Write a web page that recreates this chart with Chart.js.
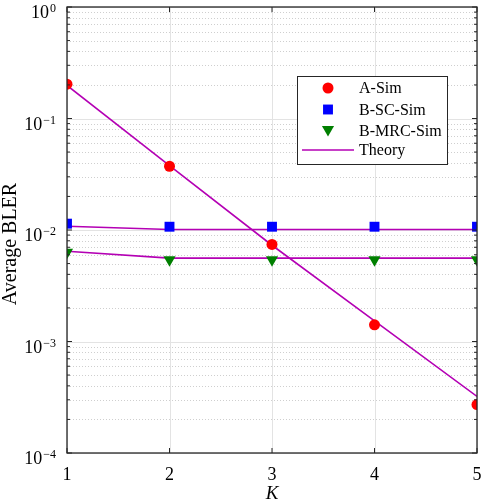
<!DOCTYPE html>
<html>
<head>
<meta charset="utf-8">
<script src="https://cdn.jsdelivr.net/npm/chart.js@4"></script>
<style>
  body { margin: 0; background: #fff; }
  canvas { display: block; }
</style>
</head>
<body>
<canvas id="grafico" width="485" height="500"></canvas>
<script>
// valores
const valoresK = [1, 2, 3, 4, 5];
const aSim = [0.203, 0.0373, 0.00743, 0.00141, 0.000272];
const bScSim = [0.0114, 0.0107, 0.0107, 0.0107, 0.0107];
const bMrcSim = [0.0063, 0.0054, 0.0054, 0.0054, 0.0054];
const aTeoria = [0.198, 0.0378, 0.0073, 0.00153, 0.000322];
const bScTeoria = [0.0108, 0.0101, 0.0101, 0.0101, 0.0101];
const bMrcTeoria = [0.00645, 0.0056, 0.0056, 0.0056, 0.0056];

const ticksX = [1, 2, 3, 4, 5];
const expoentesY = [0, -1, -2, -3, -4];
const nomesLegenda = ['A-Sim', 'B-SC-Sim', 'B-MRC-Sim', 'Theory'];

const COR_TEORIA = '#b400b4';
const COR_EIXO = '#262626';
const FONTE = '"Liberation Serif", "Times New Roman", serif';

function pontos(valores) {
  return valores.map((v, i) => ({ x: valoresK[i], y: v }));
}

function marcador(label, valores, cor, estilo, raio, rot) {
  return {
    label: label,
    data: pontos(valores),
    showLine: false,
    pointStyle: estilo,
    pointRadius: raio,
    pointRotation: rot || 0,
    pointBackgroundColor: cor,
    pointBorderColor: cor,
    pointBorderWidth: 0,
    order: 1
  };
}

function linhaTeoria(valores) {
  return {
    label: 'Theory',
    data: pontos(valores),
    borderColor: COR_TEORIA,
    borderWidth: 1.6,
    pointRadius: 0,
    fill: false,
    order: 2
  };
}

function desenhaPonto(ctx, estilo, x, y, r, cor) {
  ctx.save();
  ctx.fillStyle = cor;
  ctx.beginPath();
  if (estilo === 'circle') {
    ctx.arc(x, y, r, 0, Math.PI * 2);
  } else if (estilo === 'rect') {
    const s = Math.SQRT1_2 * r;
    ctx.rect(x - s, y - s, 2 * s, 2 * s);
  } else {
    // triângulo para baixo
    let rad = Math.PI;
    for (let i = 0; i < 3; i++) {
      const px = x + Math.sin(rad) * r;
      const py = y - Math.cos(rad) * r;
      if (i === 0) ctx.moveTo(px, py); else ctx.lineTo(px, py);
      rad += 2 * Math.PI / 3;
    }
    ctx.closePath();
  }
  ctx.fill();
  ctx.restore();
}

// grade estilo MATLAB
const pluginGrade = {
  id: 'grade',
  beforeDatasetsDraw(chart) {
    const { ctx, chartArea: a, scales: { x, y } } = chart;
    ctx.save();
    ctx.lineWidth = 1;
    // linhas menores pontilhadas
    ctx.strokeStyle = '#cfcfcf';
    ctx.setLineDash([1, 2]);
    expoentesY.slice(1).forEach(e => {
      for (let m = 2; m <= 9; m++) {
        const py = Math.round(y.getPixelForValue(m * Math.pow(10, e))) + 0.5;
        ctx.beginPath();
        ctx.moveTo(a.left, py);
        ctx.lineTo(a.right, py);
        ctx.stroke();
      }
    });
    // linhas maiores
    ctx.setLineDash([]);
    ctx.strokeStyle = '#e3e3e3';
    expoentesY.forEach(e => {
      const py = Math.round(y.getPixelForValue(Math.pow(10, e))) + 0.5;
      ctx.beginPath();
      ctx.moveTo(a.left, py);
      ctx.lineTo(a.right, py);
      ctx.stroke();
    });
    ticksX.forEach(t => {
      const px = Math.round(x.getPixelForValue(t)) + 0.5;
      ctx.beginPath();
      ctx.moveTo(px, a.top);
      ctx.lineTo(px, a.bottom);
      ctx.stroke();
    });
    ctx.restore();
  },
  afterDraw(chart) {
    const { ctx, chartArea: a, scales: { x, y } } = chart;
    ctx.save();
    // moldura
    ctx.strokeStyle = COR_EIXO;
    ctx.lineWidth = 1.3;
    ctx.strokeRect(a.left, a.top, a.right - a.left, a.bottom - a.top);

    // marcas dos eixos
    ctx.lineWidth = 1;
    ticksX.forEach(t => {
      const px = x.getPixelForValue(t);
      ctx.beginPath();
      ctx.moveTo(px, a.bottom); ctx.lineTo(px, a.bottom - 5);
      ctx.moveTo(px, a.top); ctx.lineTo(px, a.top + 5);
      ctx.stroke();
    });
    expoentesY.forEach(e => {
      const py = y.getPixelForValue(Math.pow(10, e));
      ctx.beginPath();
      ctx.moveTo(a.left, py); ctx.lineTo(a.left + 5, py);
      ctx.moveTo(a.right, py); ctx.lineTo(a.right - 5, py);
      ctx.stroke();
      if (e > -4) {
        for (let m = 2; m <= 9; m++) {
          const pm = y.getPixelForValue(m * Math.pow(10, e - 1));
          ctx.beginPath();
          ctx.moveTo(a.left, pm); ctx.lineTo(a.left + 3, pm);
          ctx.moveTo(a.right, pm); ctx.lineTo(a.right - 3, pm);
          ctx.stroke();
        }
      }
    });

    // rótulos
    ctx.fillStyle = '#000';
    ctx.textBaseline = 'alphabetic';
    ctx.font = '18px ' + FONTE;
    ctx.textAlign = 'center';
    ticksX.forEach(t => {
      ctx.fillText(String(t), x.getPixelForValue(t), a.bottom + 27);
    });
    expoentesY.forEach(e => {
      const py = y.getPixelForValue(Math.pow(10, e));
      const exp = e === 0 ? '0' : '\u2212' + Math.abs(e);
      ctx.font = '12px ' + FONTE;
      const wExp = ctx.measureText(exp).width;
      const direita = a.left - 11;
      ctx.textAlign = 'left';
      ctx.fillText(exp, direita - wExp, py + 5);
      ctx.font = '18px ' + FONTE;
      ctx.textAlign = 'right';
      ctx.fillText('10', direita - wExp - 1, py + 11);
    });

    // títulos dos eixos
    ctx.font = 'italic 19px ' + FONTE;
    ctx.textAlign = 'center';
    ctx.fillText('K', (a.left + a.right) / 2, 499);
    ctx.save();
    ctx.translate(16, 244);
    ctx.rotate(-Math.PI / 2);
    ctx.font = '20px ' + FONTE;
    ctx.fillText('Average BLER', 0, 0);
    ctx.restore();

    // legenda
    const bx = 297, by = 76, bw = 150, bh = 88;
    ctx.fillStyle = '#fff';
    ctx.fillRect(bx, by, bw, bh);
    ctx.strokeStyle = COR_EIXO;
    ctx.lineWidth = 1;
    ctx.strokeRect(bx + 0.5, by + 0.5, bw, bh);
    const linhasY = [88, 109.5, 130.5, 150];
    desenhaPonto(ctx, 'circle', 328, linhasY[0], 5.5, '#ff0000');
    desenhaPonto(ctx, 'rect', 328, linhasY[1], 7, '#0000ff');
    desenhaPonto(ctx, 'triangle', 328, linhasY[2] - 1, 7, '#007f00');
    ctx.strokeStyle = COR_TEORIA;
    ctx.lineWidth = 1.6;
    ctx.beginPath();
    ctx.moveTo(302, linhasY[3]);
    ctx.lineTo(354, linhasY[3]);
    ctx.stroke();
    ctx.fillStyle = '#000';
    ctx.font = '16px ' + FONTE;
    ctx.textAlign = 'left';
    ctx.textBaseline = 'middle';
    nomesLegenda.forEach((n, i) => ctx.fillText(n, 359, linhasY[i] + 1));
    ctx.restore();
  }
};

const ctx = document.getElementById('grafico').getContext('2d');
new Chart(ctx, {
  type: 'line',
  data: {
    datasets: [
      marcador('A-Sim', aSim, '#ff0000', 'circle', 5.5),
      marcador('B-SC-Sim', bScSim, '#0000ff', 'rect', 7),
      marcador('B-MRC-Sim', bMrcSim, '#007f00', 'triangle', 7, 180),
      linhaTeoria(aTeoria),
      linhaTeoria(bScTeoria),
      linhaTeoria(bMrcTeoria)
    ]
  },
  options: {
    responsive: false,
    animation: false,
    layout: { padding: { left: 67, right: 8, top: 4, bottom: 47 } },
    scales: {
      x: { type: 'linear', min: 1, max: 5, display: false },
      y: { type: 'logarithmic', min: 1e-4, max: 1, display: false }
    },
    plugins: {
      legend: { display: false },
      tooltip: { enabled: false }
    }
  },
  plugins: [pluginGrade]
});
</script>
</body>
</html>
